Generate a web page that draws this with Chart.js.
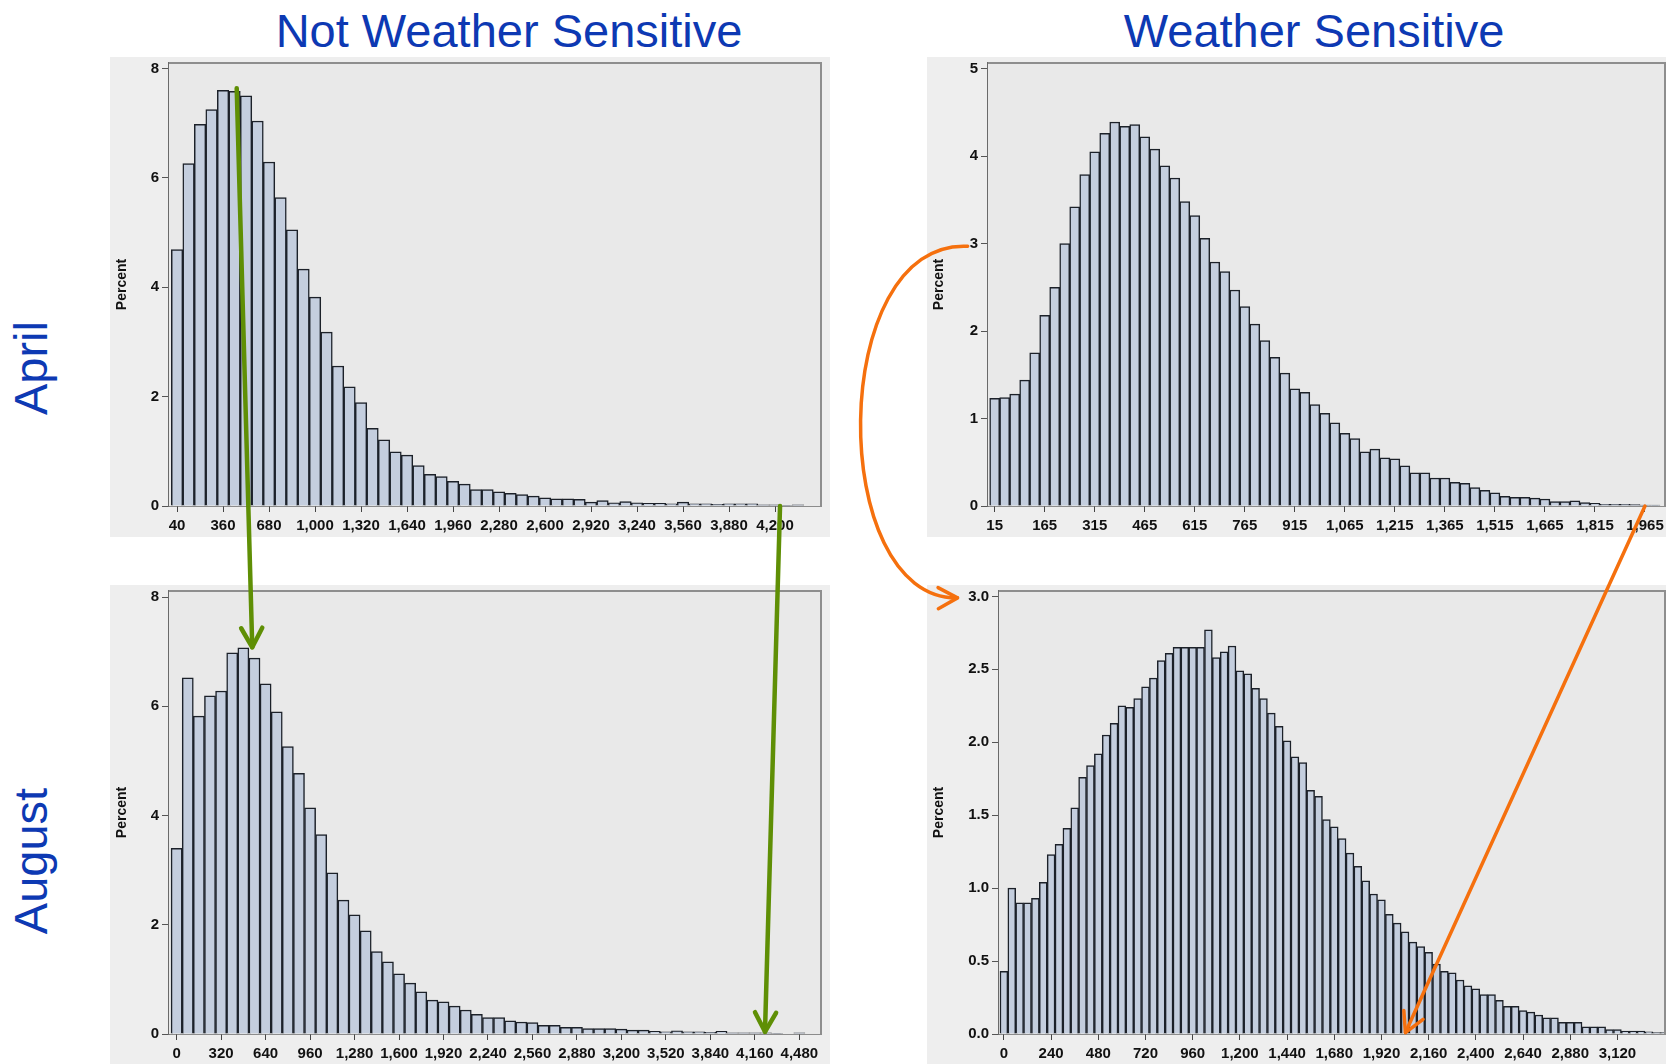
<!DOCTYPE html>
<html>
<head>
<meta charset="utf-8">
<script src="https://cdn.jsdelivr.net/npm/chart.js@4.4.1/dist/chart.umd.min.js"></script>
<style>
    html, body { margin: 0; padding: 0; background: #fff; width: 1666px; height: 1064px; overflow: hidden; font-family: "Liberation Sans", Arial, sans-serif; }
    .panel { position: absolute; background: #eeeeee; }
    .big { position: absolute; color: #0d39b3; font-size: 47px; line-height: 47px; white-space: nowrap; }
    #overlay { position: absolute; left: 0; top: 0; pointer-events: none; }
</style>
</head>
<body>
<div class="big" style="left:509px; top:7px; transform:translateX(-50%)">Not Weather Sensitive</div>
<div class="big" style="left:1314px; top:7px; transform:translateX(-50%)">Weather Sensitive</div>
<div class="big" style="left:30px; top:368px; transform:translate(-50%,-50%) rotate(-90deg)">April</div>
<div class="big" style="left:30px; top:861px; transform:translate(-50%,-50%) rotate(-90deg)">August</div>

<canvas id="nwsApril" class="panel" style="left:110px; top:57px" width="720" height="480"></canvas>
<canvas id="wsApril" class="panel" style="left:927px; top:57px" width="739" height="480"></canvas>
<canvas id="nwsAugust" class="panel" style="left:110px; top:585px" width="720" height="479"></canvas>
<canvas id="wsAugust" class="panel" style="left:927px; top:585px" width="739" height="479"></canvas>
<canvas id="overlay" width="1666" height="1064"></canvas>

<script>
// histogram bins: first bin centre and bin width
const nwsAprilBin = [40, 80];
const wsAprilBin = [15, 30];
const nwsAugustBin = [0, 80];
const wsAugustBin = [0, 40];

// percent per bin
const nwsAprilPct = [4.69, 6.26, 6.98, 7.25, 7.60, 7.58, 7.50, 7.04, 6.29, 5.64,
    5.05, 4.33, 3.82, 3.18, 2.56, 2.18, 1.89, 1.42, 1.21, 0.99,
    0.93, 0.74, 0.58, 0.54, 0.45, 0.40, 0.30, 0.30, 0.26, 0.23,
    0.21, 0.18, 0.15, 0.13, 0.13, 0.12, 0.07, 0.10, 0.06, 0.08,
    0.06, 0.05, 0.05, 0.04, 0.07, 0.04, 0.04, 0.03, 0.04, 0.04,
    0.04, 0.02, 0.02, 0.01, 0.02];
const wsAprilPct = [1.23, 1.24, 1.28, 1.44, 1.75, 2.18, 2.50, 3.00, 3.42, 3.79,
    4.05, 4.26, 4.39, 4.34, 4.36, 4.22, 4.08, 3.89, 3.75, 3.48,
    3.32, 3.06, 2.79, 2.68, 2.47, 2.28, 2.08, 1.89, 1.70, 1.52,
    1.34, 1.30, 1.16, 1.06, 0.95, 0.83, 0.77, 0.62, 0.65, 0.55,
    0.54, 0.46, 0.38, 0.38, 0.32, 0.32, 0.27, 0.26, 0.21, 0.18,
    0.15, 0.11, 0.10, 0.10, 0.09, 0.08, 0.05, 0.05, 0.06, 0.04,
    0.03, 0.02, 0.02, 0.02, 0.015, 0.01, 0.01];
const nwsAugustPct = [3.40, 6.52, 5.82, 6.19, 6.28, 6.98, 7.07, 6.88, 6.41, 5.90,
    5.26, 4.77, 4.14, 3.65, 2.95, 2.45, 2.18, 1.89, 1.51, 1.32,
    1.10, 0.93, 0.77, 0.62, 0.59, 0.51, 0.44, 0.36, 0.30, 0.30,
    0.24, 0.22, 0.21, 0.16, 0.16, 0.12, 0.12, 0.10, 0.10, 0.10,
    0.09, 0.07, 0.07, 0.05, 0.04, 0.06, 0.04, 0.04, 0.03, 0.05,
    0.02, 0.02, 0.02, 0.02, 0.01, 0, 0.02];
const wsAugustPct = [0.43, 1.00, 0.90, 0.90, 0.93, 1.04, 1.23, 1.30, 1.41, 1.55,
    1.76, 1.84, 1.92, 2.05, 2.13, 2.25, 2.24, 2.30, 2.38, 2.44,
    2.56, 2.61, 2.65, 2.65, 2.65, 2.65, 2.77, 2.58, 2.62, 2.66,
    2.49, 2.47, 2.37, 2.30, 2.20, 2.11, 2.01, 1.90, 1.86, 1.67,
    1.63, 1.47, 1.42, 1.34, 1.24, 1.15, 1.05, 0.96, 0.92, 0.82,
    0.76, 0.70, 0.63, 0.60, 0.56, 0.48, 0.43, 0.42, 0.37, 0.33,
    0.31, 0.27, 0.27, 0.23, 0.19, 0.19, 0.16, 0.15, 0.13, 0.11,
    0.11, 0.08, 0.08, 0.08, 0.05, 0.05, 0.05, 0.03, 0.03, 0.02,
    0.02, 0.02, 0.015, 0.01, 0.01];

// tick labels
const nwsAprilXTicks = [40, 360, 680, 1000, 1320, 1640, 1960, 2280, 2600, 2920, 3240, 3560, 3880, 4200];
const wsAprilXTicks = [15, 165, 315, 465, 615, 765, 915, 1065, 1215, 1365, 1515, 1665, 1815, 1965];
const nwsAugustXTicks = [0, 320, 640, 960, 1280, 1600, 1920, 2240, 2560, 2880, 3200, 3520, 3840, 4160, 4480];
const wsAugustXTicks = [0, 240, 480, 720, 960, 1200, 1440, 1680, 1920, 2160, 2400, 2640, 2880, 3120];
const nwsYTicks = [0, 2, 4, 6, 8];
const wsAprilYTicks = [0, 1, 2, 3, 4, 5];
const wsAugustYTicks = [0, 0.5, 1.0, 1.5, 2.0, 2.5, 3.0];

const tickFont = { family: "'Liberation Sans', Arial, sans-serif", size: 15, weight: "bold" };
const titleFont = { family: "'Liberation Sans', Arial, sans-serif", size: 14, weight: "bold" };

const frame = {
    id: "frame",
    beforeDatasetsDraw(chart) {
        const { ctx, chartArea: a } = chart;
        ctx.save();
        ctx.fillStyle = "#e9e9e9";
        ctx.fillRect(a.left, a.top, a.width, a.height);
        ctx.restore();
    },
    afterDraw(chart) {
        const { ctx, chartArea: a } = chart;
        ctx.save();
        ctx.strokeStyle = "#8e8e8e";
        ctx.lineWidth = 2;
        ctx.beginPath();
        ctx.moveTo(a.left, a.top);
        ctx.lineTo(a.right, a.top);
        ctx.lineTo(a.right, a.bottom);
        ctx.stroke();
        ctx.restore();
    },
};

function makeHist(id, bin, pct, xr, xTicks, yMax, yTicks, yAxisW, xAxisH, pad, yFmt) {
    const points = pct.map((v, i) => ({ x: bin[0] + i * bin[1], y: v }));
    return new Chart(document.getElementById(id), {
        type: "bar",
        data: {
            datasets: [{
                data: points,
                backgroundColor: "#c4cede",
                borderColor: "#1c2129",
                borderWidth: 1.5,
                barPercentage: 1,
                categoryPercentage: 1,
            }],
        },
        options: {
            responsive: false,
            animation: false,
            devicePixelRatio: 1,
            layout: { padding: pad },
            plugins: { legend: { display: false }, tooltip: { enabled: false } },
            scales: {
                x: {
                    type: "linear",
                    offset: false,
                    min: xr[0],
                    max: xr[1],
                    afterBuildTicks: (s) => { s.ticks = xTicks.map((v) => ({ value: v })); },
                    afterFit: (s) => { s.height = xAxisH; s.paddingLeft = 0; s.paddingRight = 0; },
                    ticks: {
                        autoSkip: false,
                        maxRotation: 0,
                        padding: 5,
                        color: "#111",
                        font: tickFont,
                        callback: (v) => Number(v).toLocaleString("en-US"),
                    },
                    grid: { offset: false, drawOnChartArea: false, tickLength: 6, color: "#444" },
                    border: { color: "#2a2a2a", width: 1.5 },
                },
                y: {
                    min: 0,
                    max: yMax,
                    afterBuildTicks: (s) => { s.ticks = yTicks.map((v) => ({ value: v })); },
                    afterFit: (s) => { s.width = yAxisW; s.paddingTop = 0; s.paddingBottom = 0; },
                    ticks: { padding: 3, color: "#111", font: tickFont, callback: yFmt },
                    grid: { drawOnChartArea: false, tickLength: 7, color: "#555" },
                    border: { color: "#6a6a6a", width: 1.5 },
                    title: { display: true, text: "Percent", color: "#111", font: titleFont, padding: { top: 4, bottom: 0 } },
                },
            },
        },
        plugins: [frame],
    });
}

const intFmt = (v) => String(v);
const decFmt = (v) => Number(v).toFixed(1);

const nwsApril = makeHist("nwsApril", nwsAprilBin, nwsAprilPct, [-16, 4520], nwsAprilXTicks,
    8.1, nwsYTicks, 59, 31, { top: 6, right: 9, left: 0, bottom: 0 }, intFmt);
const wsApril = makeHist("wsApril", wsAprilBin, wsAprilPct, [-5, 2025], wsAprilXTicks,
    5.065, wsAprilYTicks, 61, 31, { top: 6, right: 1, left: 0, bottom: 0 }, intFmt);
const nwsAugust = makeHist("nwsAugust", nwsAugustBin, nwsAugustPct, [-55, 4636], nwsAugustXTicks,
    8.11, nwsYTicks, 59, 30, { top: 6, right: 9, left: 0, bottom: 0 }, intFmt);
const wsAugust = makeHist("wsAugust", wsAugustBin, wsAugustPct, [-25, 3362], wsAugustXTicks,
    3.037, wsAugustYTicks, 72, 30, { top: 6, right: 1, left: 0, bottom: 0 }, decFmt);

// annotation arrows, placed through each chart's scales
function at(chart, xv, yv) {
    const c = chart.canvas;
    return [c.offsetLeft + chart.scales.x.getPixelForValue(xv), c.offsetTop + chart.scales.y.getPixelForValue(yv)];
}

function head(ctx, tip, from, len) {
    const ang = Math.atan2(tip[1] - from[1], tip[0] - from[0]);
    ctx.beginPath();
    ctx.moveTo(tip[0] - len * Math.cos(ang - 0.5), tip[1] - len * Math.sin(ang - 0.5));
    ctx.lineTo(tip[0], tip[1]);
    ctx.lineTo(tip[0] - len * Math.cos(ang + 0.5), tip[1] - len * Math.sin(ang + 0.5));
    ctx.stroke();
}

function straight(ctx, a, b, color, w) {
    ctx.strokeStyle = color;
    ctx.lineWidth = w;
    ctx.beginPath();
    ctx.moveTo(a[0], a[1]);
    ctx.lineTo(b[0], b[1]);
    ctx.stroke();
    head(ctx, b, a, 22);
}

const ov = document.getElementById("overlay").getContext("2d");
ov.lineCap = "round";
ov.lineJoin = "round";

const green = "#5f8f05";
const orange = "#f5700e";

straight(ov, at(nwsApril, 455, 7.64), at(nwsAugust, 544, 7.08), green, 4.5);
straight(ov, at(nwsApril, 4235, 0), at(nwsAugust, 4233, 0.04), green, 4.5);
straight(ov, at(wsApril, 1965, 0), at(wsAugust, 2042, 0.01), orange, 3.5);

// curved arrow from the April 3% tick to the August 3.0% tick
const cs = at(wsApril, -66, 2.97);
const ce = at(wsAugust, -236, 2.99);
const c1 = [cs[0] - 141, cs[1] - 7];
const c2 = [ce[0] - 131, ce[1] + 2];
ov.strokeStyle = orange;
ov.lineWidth = 3.5;
ov.beginPath();
ov.moveTo(cs[0], cs[1]);
ov.bezierCurveTo(c1[0], c1[1], c2[0], c2[1], ce[0], ce[1]);
ov.stroke();
head(ov, ce, c2, 22);
</script>
</body>
</html>
